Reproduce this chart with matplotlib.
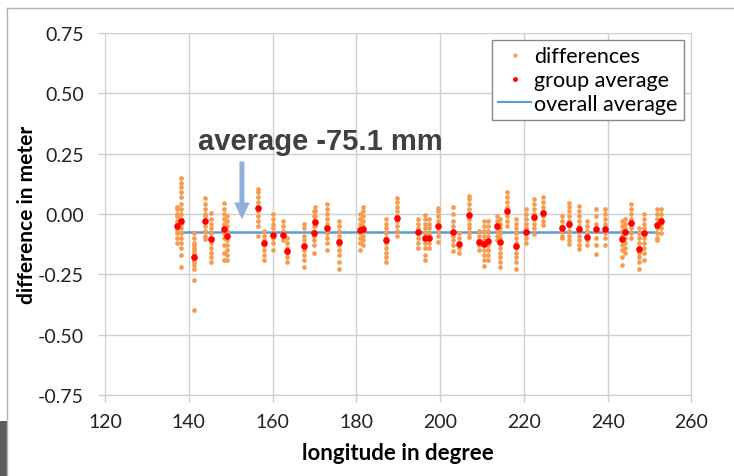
import matplotlib
matplotlib.use("Agg")
import matplotlib.pyplot as plt
from matplotlib.patches import Rectangle, FancyArrow
from matplotlib.lines import Line2D

# group longitudes, group averages and individual differences (m)
lons = [137.1, 138.1, 141.2, 144.0, 145.4, 148.5, 149.2, 156.6, 157.9, 160.1,
        162.6, 163.4, 167.5, 169.8, 170.2, 172.9, 175.8, 180.9, 181.7, 187.1,
        189.7, 194.8, 196.4, 197.4, 199.5, 203.1, 204.6, 206.8, 209.2, 210.5,
        211.5, 213.7, 214.3, 215.9, 218.2, 220.4, 222.3, 224.6, 229.0, 230.8,
        233.2, 235.1, 237.3, 239.3, 243.5, 244.2, 245.6, 247.6, 248.7, 251.9,
        252.7]
group_avg = [-0.052, -0.030, -0.177, -0.029, -0.102, -0.063, -0.092, 0.025, -0.119, -0.087,
             -0.086, -0.152, -0.133, -0.080, -0.034, -0.059, -0.116, -0.068, -0.063, -0.110,
             -0.018, -0.075, -0.101, -0.101, -0.052, -0.077, -0.123, -0.005, -0.116, -0.123,
             -0.112, -0.051, -0.117, 0.011, -0.134, -0.076, -0.011, 0.004, -0.057, -0.040,
             -0.063, -0.097, -0.063, -0.063, -0.102, -0.077, -0.036, -0.144, -0.080, -0.047,
             -0.029]
diffs = [
    [0.03, 0.02, 0.00, -0.01, -0.03, -0.04, -0.05, -0.06, -0.07, -0.08, -0.10, -0.12],
    [0.15, 0.13, 0.11, 0.09, 0.07, 0.04, 0.02, 0.00, -0.02, -0.04, -0.06, -0.08, -0.10, -0.12, -0.14, -0.17, -0.22],
    [-0.08, -0.10, -0.12, -0.13, -0.14, -0.15, -0.16, -0.18, -0.19, -0.20, -0.21, -0.23, -0.275, -0.40],
    [0.065, 0.04, 0.02, 0.00, -0.01, -0.03, -0.05, -0.07, -0.09, -0.105],
    [0.005, -0.02, -0.04, -0.06, -0.08, -0.10, -0.12, -0.14, -0.16, -0.18, -0.20],
    [0.047, 0.02, 0.00, -0.02, -0.04, -0.06, -0.08, -0.10, -0.13, -0.16, -0.19],
    [-0.01, -0.03, -0.05, -0.07, -0.09, -0.11, -0.13, -0.15, -0.17, -0.19],
    [0.105, 0.09, 0.07, 0.05, 0.03, 0.01, -0.01, -0.03, -0.05, -0.09],
    [-0.07, -0.09, -0.11, -0.13, -0.15, -0.17, -0.19],
    [0.00, -0.02, -0.04, -0.06, -0.08, -0.10, -0.12, -0.15],
    [-0.03, -0.05, -0.07, -0.09, -0.11],
    [-0.10, -0.12, -0.14, -0.16, -0.18, -0.20],
    [-0.04, -0.06, -0.09, -0.11, -0.13, -0.15, -0.17, -0.19, -0.22],
    [0.01, -0.01, -0.03, -0.05, -0.07, -0.09, -0.11, -0.13, -0.16],
    [0.03, 0.01, -0.01, -0.03, -0.05],
    [0.04, 0.02, 0.00, -0.02, -0.04, -0.06, -0.08, -0.10, -0.12, -0.15],
    [-0.03, -0.05, -0.07, -0.09, -0.11, -0.13, -0.15, -0.17, -0.20, -0.23],
    [0.00, -0.02, -0.04, -0.06, -0.08, -0.10, -0.12, -0.15],
    [0.03, 0.01, -0.01, -0.03, -0.05, -0.07, -0.09, -0.11, -0.13],
    [-0.02, -0.04, -0.06, -0.08, -0.10, -0.12, -0.14, -0.16, -0.18, -0.20],
    [0.065, 0.05, 0.03, 0.01, -0.01, -0.03, -0.05, -0.07, -0.09],
    [-0.02, -0.04, -0.06, -0.08, -0.10, -0.12, -0.14],
    [-0.005, -0.02, -0.04, -0.06, -0.08, -0.10, -0.12, -0.14, -0.17, -0.19],
    [-0.02, -0.04, -0.06, -0.08, -0.10, -0.12, -0.14],
    [0.026, 0.01, -0.01, -0.03, -0.05, -0.07, -0.09, -0.115],
    [0.03, 0.00, -0.03, -0.05, -0.07, -0.09, -0.11, -0.13, -0.155],
    [-0.08, -0.10, -0.12, -0.14, -0.16],
    [0.075, 0.06, 0.04, 0.02, 0.00, -0.02, -0.04, -0.06, -0.08, -0.095],
    [-0.07, -0.09, -0.11, -0.13, -0.15],
    [-0.03, -0.05, -0.07, -0.09, -0.11, -0.13, -0.15, -0.17, -0.19, -0.215],
    [-0.03, -0.05, -0.07, -0.09, -0.11, -0.13, -0.15, -0.17, -0.19],
    [-0.01, -0.03, -0.05, -0.07, -0.09, -0.11],
    [-0.02, -0.04, -0.06, -0.08, -0.10, -0.12, -0.14, -0.16, -0.18, -0.20, -0.22],
    [0.09, 0.07, 0.05, 0.03, 0.01, -0.01, -0.03, -0.05],
    [-0.02, -0.04, -0.06, -0.08, -0.10, -0.12, -0.14, -0.16, -0.18, -0.20, -0.23],
    [0.02, 0.00, -0.02, -0.04, -0.06, -0.08, -0.10, -0.12],
    [0.06, 0.04, 0.02, 0.00, -0.02, -0.04, -0.06, -0.085],
    [0.07, 0.05, 0.03, 0.01, -0.01, -0.03, -0.045],
    [-0.01, -0.03, -0.05, -0.07, -0.09, -0.10],
    [0.047, 0.03, 0.01, -0.01, -0.03, -0.05, -0.07, -0.09, -0.11, -0.125],
    [0.033, 0.01, -0.01, -0.03, -0.05, -0.07, -0.09, -0.11, -0.13, -0.145],
    [-0.03, -0.05, -0.07, -0.09, -0.11, -0.13],
    [0.02, -0.01, -0.04, -0.07, -0.10, -0.13, -0.165],
    [0.02, 0.00, -0.02, -0.04, -0.06, -0.08, -0.10, -0.13],
    [-0.03, -0.05, -0.07, -0.09, -0.11, -0.13, -0.15, -0.18, -0.21],
    [-0.02, -0.04, -0.06, -0.08, -0.10, -0.12, -0.14, -0.16],
    [0.04, 0.02, 0.00, -0.02, -0.04, -0.06, -0.08, -0.10],
    [-0.06, -0.08, -0.10, -0.12, -0.14, -0.16, -0.18, -0.20, -0.23],
    [0.00, -0.02, -0.04, -0.06, -0.08, -0.10, -0.12, -0.14, -0.16, -0.19],
    [0.02, 0.00, -0.02, -0.04, -0.06, -0.08, -0.10, -0.11],
    [0.02, 0.00, -0.02, -0.04, -0.06, -0.08],
]
overall_avg = -0.0751
overall_range = [138.3, 251.6]

orange = '#f79b4f'
grid_c = '#d0d0d0'
plt.rcParams['font.family'] = ['Lato', 'DejaVu Sans']

fig = plt.figure(figsize=(7.34, 4.77), dpi=100)
ax = fig.add_axes([0.143, 0.170, 0.799, 0.759])

xs, ys = [], []
for lon, vals in zip(lons, diffs):
    xs += [lon] * len(vals)
    ys += vals
ax.plot(xs, ys, 'o', color=orange, ms=3.4, mec='none', zorder=3)
ax.plot(lons, group_avg, 'o', color='#ff0000', ms=4.8, mec='none', zorder=4)
ax.plot(overall_range, [overall_avg, overall_avg], color='#5b9bd5', lw=1.8, zorder=2)

ax.set_xlim(120, 260)
ax.set_ylim(-0.75, 0.75)
ax.set_xticks(range(120, 261, 20))
ax.set_yticks([-0.75, -0.5, -0.25, 0, 0.25, 0.5, 0.75])
ax.set_yticklabels(['-0.75', '-0.50', '-0.25', '0.00', '0.25', '0.50', '0.75'])
ax.grid(True, color=grid_c, lw=1)
ax.set_axisbelow(True)
for s in ax.spines.values():
    s.set_color(grid_c)
ax.tick_params(colors=grid_c, labelcolor='#222222', labelsize=14, length=5, width=1)
ax.tick_params(axis='y', pad=10)
ax.tick_params(axis='x', pad=8)

ax.set_xlabel('longitude in degree', fontsize=16, fontweight='bold', labelpad=9)
ax.set_ylabel('difference in meter', fontsize=15, fontweight='bold', labelpad=1)

# annotation
ax.text(171.5, 0.30, 'average -75.1 mm', fontsize=21, fontweight='bold', color='#404040',
        family='Liberation Sans', ha='center', va='center')
ax.add_patch(FancyArrow(152.7, 0.217, 0, -0.24, width=1.2, head_width=3.7, head_length=0.07,
                        length_includes_head=True, color='#8fb0da', lw=0, zorder=5))

handles = [Line2D([], [], ls='none', marker='o', color=orange, ms=3, mec='none'),
           Line2D([], [], ls='none', marker='o', color='#ff0000', ms=3.5, mec='none'),
           Line2D([], [], color='#5b9bd5', lw=1.5)]
leg = ax.legend(handles, ['differences', 'group average', 'overall average'],
                loc='upper right', bbox_to_anchor=(0.987, 0.981), borderaxespad=0,
                fontsize=15.5, fancybox=False, framealpha=1, edgecolor='#888888',
                handlelength=1.5, handletextpad=0.15, labelspacing=0.18, borderpad=0.3)
leg.get_frame().set_linewidth(1)

# outer frame and the dark block at bottom left
fig.add_artist(Line2D([7 / 734, 1], [1 - 9 / 477, 1 - 9 / 477], transform=fig.transFigure,
                      color='#b0b0b0', lw=1))
fig.add_artist(Line2D([7 / 734, 7 / 734], [0, 1 - 9 / 477], transform=fig.transFigure,
                      color='#b0b0b0', lw=1))
fig.add_artist(Rectangle((0, 0), 7 / 734, 55 / 477, transform=fig.transFigure,
                         color='#5a5c58', lw=0))

fig.savefig('out.png', dpi=100)
